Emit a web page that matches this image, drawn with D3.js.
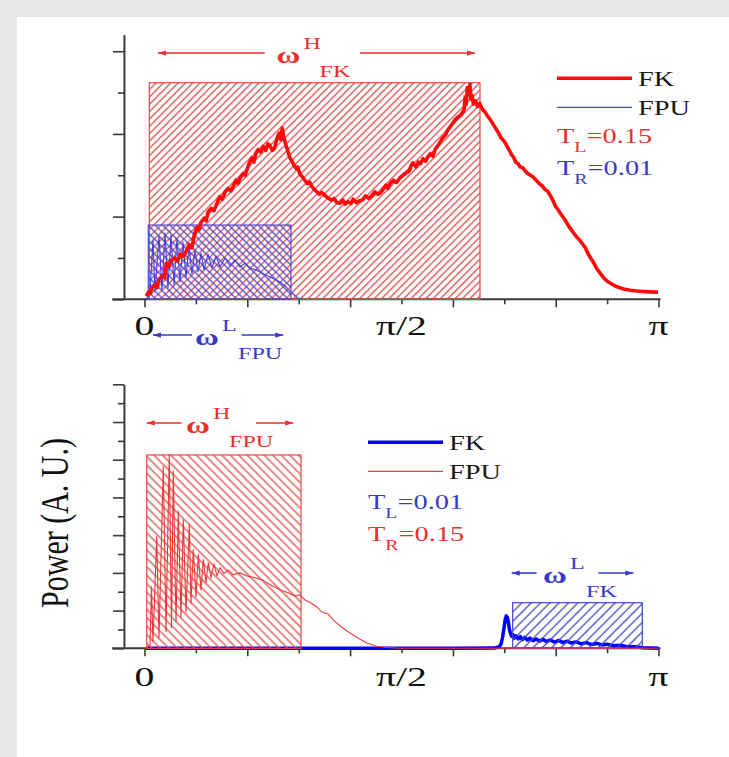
<!DOCTYPE html>
<html>
<head>
<meta charset="utf-8">
<script src="https://cdn.jsdelivr.net/npm/d3@7"></script>
<style>
body { margin: 0; background: #fff; }
svg { display: block; }
</style>
</head>
<body>
<div id="chart"></div>
<script>
// x is in units of pi, y in arbitrary units (one major tick = 1)
const topFK = [[0.003,0.04],[0.008,0.09],[0.011,0.07],[0.015,0.15],[0.020,0.17],[0.024,0.14],[0.028,0.24],[0.035,0.29],[0.039,0.26],[0.043,0.44],[0.047,0.40],[0.052,0.47],[0.059,0.50],[0.064,0.46],[0.070,0.55],[0.076,0.52],[0.081,0.58],[0.087,0.66],[0.092,0.62],[0.097,0.78],[0.102,0.87],[0.106,0.84],[0.110,0.93],[0.116,0.98],[0.120,0.95],[0.124,1.06],[0.130,1.10],[0.135,1.07],[0.141,1.16],[0.146,1.24],[0.151,1.21],[0.157,1.30],[0.163,1.34],[0.168,1.31],[0.172,1.36],[0.178,1.44],[0.182,1.40],[0.186,1.47],[0.192,1.52],[0.196,1.50],[0.199,1.56],[0.204,1.65],[0.209,1.71],[0.213,1.66],[0.217,1.77],[0.221,1.81],[0.226,1.78],[0.231,1.85],[0.236,1.80],[0.240,1.88],[0.244,1.86],[0.249,1.80],[0.253,1.83],[0.258,1.95],[0.262,2.01],[0.265,1.93],[0.268,2.07],[0.271,1.96],[0.274,1.89],[0.278,1.81],[0.283,1.71],[0.287,1.67],[0.291,1.62],[0.295,1.58],[0.298,1.60],[0.302,1.52],[0.307,1.48],[0.312,1.44],[0.317,1.40],[0.321,1.42],[0.325,1.37],[0.330,1.33],[0.335,1.30],[0.340,1.27],[0.345,1.29],[0.352,1.25],[0.358,1.22],[0.364,1.20],[0.369,1.22],[0.374,1.17],[0.380,1.16],[0.386,1.20],[0.390,1.15],[0.396,1.18],[0.402,1.16],[0.406,1.21],[0.412,1.17],[0.418,1.19],[0.424,1.20],[0.430,1.25],[0.436,1.22],[0.442,1.25],[0.448,1.30],[0.454,1.27],[0.460,1.29],[0.464,1.33],[0.470,1.38],[0.474,1.34],[0.478,1.40],[0.484,1.44],[0.490,1.41],[0.497,1.47],[0.503,1.50],[0.509,1.53],[0.515,1.55],[0.519,1.62],[0.522,1.65],[0.528,1.60],[0.533,1.66],[0.537,1.64],[0.542,1.70],[0.547,1.67],[0.551,1.72],[0.556,1.76],[0.561,1.73],[0.566,1.82],[0.571,1.86],[0.576,1.91],[0.581,1.96],[0.586,1.99],[0.590,2.05],[0.595,2.09],[0.600,2.13],[0.604,2.17],[0.609,2.20],[0.614,2.22],[0.618,2.25],[0.622,2.30],[0.624,2.45],[0.626,2.36],[0.628,2.56],[0.630,2.48],[0.633,2.60],[0.635,2.42],[0.637,2.47],[0.640,2.36],[0.644,2.40],[0.648,2.33],[0.652,2.37],[0.657,2.30],[0.662,2.27],[0.667,2.22],[0.672,2.18],[0.676,2.14],[0.680,2.10],[0.685,2.05],[0.689,2.01],[0.693,1.96],[0.697,1.93],[0.701,1.90],[0.706,1.84],[0.710,1.80],[0.714,1.75],[0.718,1.72],[0.722,1.66],[0.727,1.64],[0.731,1.60],[0.736,1.59],[0.741,1.55],[0.746,1.52],[0.751,1.50],[0.756,1.48],[0.762,1.44],[0.768,1.40],[0.774,1.37],[0.779,1.33],[0.784,1.31],[0.790,1.25],[0.795,1.19],[0.800,1.12],[0.805,1.08],[0.810,1.03],[0.816,0.98],[0.822,0.92],[0.828,0.86],[0.834,0.81],[0.840,0.76],[0.846,0.72],[0.852,0.67],[0.858,0.62],[0.863,0.55],[0.868,0.50],[0.874,0.44],[0.880,0.37],[0.886,0.32],[0.892,0.27],[0.898,0.23],[0.905,0.20],[0.913,0.17],[0.922,0.145],[0.932,0.125],[0.945,0.11],[0.958,0.10],[0.970,0.095],[0.985,0.09],[0.999,0.085]];

const topFPU = [[0.003,0],[0.0107,0.088],[0.0165,0.717],[0.0204,0.088],[0.0282,0.765],[0.034,0.112],[0.0399,0.802],[0.0457,0.137],[0.0516,0.777],[0.0574,0.173],[0.0632,0.741],[0.0691,0.209],[0.0749,0.693],[0.0807,0.258],[0.0866,0.644],[0.0924,0.306],[0.0982,0.596],[0.1041,0.33],[0.1099,0.56],[0.1158,0.354],[0.1235,0.548],[0.1313,0.378],[0.1391,0.524],[0.1469,0.39],[0.1566,0.5],[0.1663,0.403],[0.1761,0.475],[0.1858,0.39],[0.1955,0.439],[0.2053,0.378],[0.2169,0.354],[0.2286,0.318],[0.2403,0.282],[0.2519,0.245],[0.2636,0.209],[0.2753,0.149],[0.287,0.076],[0.2986,0.016],[0.3064,0]];

const botFK = [[0.003,0],[0.300,0],[0.600,0],[0.680,0.005],[0.690,0.04],[0.694,0.12],[0.697,0.32],[0.700,0.60],[0.702,0.78],[0.704,0.86],[0.706,0.82],[0.708,0.68],[0.710,0.50],[0.712,0.40],[0.714,0.32],[0.717,0.36],[0.720,0.27],[0.723,0.33],[0.727,0.25],[0.731,0.31],[0.735,0.23],[0.740,0.29],[0.745,0.22],[0.750,0.27],[0.756,0.20],[0.762,0.25],[0.768,0.19],[0.775,0.24],[0.782,0.18],[0.790,0.22],[0.798,0.16],[0.806,0.21],[0.814,0.15],[0.822,0.19],[0.830,0.14],[0.840,0.17],[0.850,0.12],[0.860,0.15],[0.870,0.10],[0.880,0.13],[0.890,0.09],[0.900,0.11],[0.912,0.07],[0.925,0.08],[0.940,0.04],[0.955,0.04],[0.970,0.015],[0.985,0.01],[1.0,0]];

const botFPU = [[0.003,0],[0.0107,0.088],[0.0136,1.63],[0.0165,0.168],[0.0237,2.96],[0.0282,0.279],[0.0366,4.82],[0.0418,0.444],[0.0482,5.14],[0.0525,0.552],[0.056,4.69],[0.0613,0.708],[0.0658,3.63],[0.071,0.833],[0.0755,3.41],[0.0807,0.966],[0.0872,3.28],[0.0905,1.2],[0.0949,2.62],[0.1002,1.36],[0.1047,2.48],[0.1099,1.55],[0.1144,2.35],[0.1196,1.74],[0.1241,2.27],[0.1294,1.87],[0.1352,2.24],[0.141,1.92],[0.1469,2.14],[0.1547,1.98],[0.1625,2.08],[0.1722,1.95],[0.1858,2.0],[0.1994,1.92],[0.215,1.87],[0.2286,1.82],[0.2383,1.74],[0.2481,1.66],[0.2636,1.55],[0.2792,1.47],[0.2928,1.39],[0.3025,1.42],[0.3123,1.28],[0.3239,1.2],[0.335,1.1],[0.3453,0.965],[0.357,0.912],[0.3667,0.753],[0.3804,0.593],[0.3998,0.407],[0.4154,0.274],[0.4323,0.141],[0.4504,0.061],[0.4712,0.021],[0.497,0],[0.6916,0],[1.0,0]];

// hatched frequency windows: x0, x1 (pi units), height
const topWindows = [{name:"FK", x0:0.0093, x1:0.6527, h:2.619}, {name:"FPU", x0:0.0074, x1:0.285, h:0.898}];
const botWindows = [{name:"FPU", x0:0.0043, x1:0.3045, h:5.126}, {name:"FK", x0:0.7163, x1:0.9685, h:1.209}];

const xMajor = [0, 0.2, 0.4, 0.6, 0.8, 1.0];
const xMinor = [0.1, 0.3, 0.5, 0.7, 0.9];
const xLabelVals = [0, 0.5, 1];
const xLabels = ["0", "π/2", "π"];
const topYMajor = [0, 1, 2, 3];
const topYMinor = [0.5, 1.5, 2.5];
const botYMajor = [0, 1, 2, 3, 4, 5, 6, 7];
const botYMinor = [0.5, 1.5, 2.5, 3.5, 4.5, 5.5, 6.5];

const RED = "#e8302e", BLUE = "#3a3ac8", FONT = "Liberation Serif, Times New Roman, serif", SX = 1.42;

const svg = d3.select("#chart").append("svg").attr("width", 729).attr("height", 757);
svg.append("rect").attr("width", 729).attr("height", 757).attr("fill", "#fff");
svg.append("rect").attr("width", 729).attr("height", 17).attr("fill", "#e6e6e6");
svg.append("rect").attr("width", 17).attr("height", 757).attr("fill", "#e6e6e6");

const defs = svg.append("defs");
function hatch(id, color, s, angle) {
    const p = defs.append("pattern").attr("id", id).attr("patternUnits", "userSpaceOnUse")
        .attr("width", s).attr("height", s).attr("patternTransform", "rotate(" + angle + ")");
    p.append("line").attr("x1", s/2).attr("y1", 0).attr("x2", s/2).attr("y2", s)
        .attr("stroke", color).attr("stroke-width", 1.3);
}
hatch("hTopFK", "#e44848", 5.2, 45);
hatch("hTopFPU", "#4a4ad6", 5.2, -45);
hatch("hBotFPU", "#e44848", 6, -45);
hatch("hBotFK", "#4444cc", 6.6, 45);

const x = d3.scaleLinear().domain([0, 1]).range([144.5, 658.5]);
const yTop = d3.scaleLinear().domain([0, 3.2]).range([299.3, 34.7]);
const yBot = d3.scaleLinear().domain([0, 7]).range([648.3, 384.3]);

function stext(g, px, py, str, size, color, weight, anchor) {
    return g.append("text").attr("transform", "translate(" + px + "," + py + ") scale(" + SX + ",1)")
        .attr("font-family", FONT).attr("font-size", size).attr("fill", color)
        .attr("font-weight", weight || "normal").attr("text-anchor", anchor || "start").text(str);
}

function axes(g, y, yMajor, yMinor, labelY) {
    const ax = x(-0.04);
    const yg = g.append("g").attr("transform", "translate(" + ax + ",0)");
    yg.call(d3.axisLeft(y).tickValues(yMajor).tickSize(11).tickSizeOuter(0).tickFormat(""));
    yg.append("g").call(d3.axisLeft(y).tickValues(yMinor).tickSize(6).tickFormat(""))
        .select(".domain").remove();
    const xg = g.append("g").attr("transform", "translate(0," + y(0) + ")");
    xg.call(d3.axisBottom(x).tickValues(xMajor).tickSize(8).tickFormat(""));
    xg.select(".domain").remove();
    xg.append("g").call(d3.axisBottom(x).tickValues(xMinor).tickSize(5).tickFormat(""))
        .select(".domain").remove();
    g.append("line").attr("x1", x(-0.063)).attr("x2", x(1.004))
        .attr("y1", y(0)).attr("y2", y(0)).attr("stroke", "#3a3a3a").attr("stroke-width", 2);
    g.selectAll(".domain").attr("stroke", "#3a3a3a").attr("stroke-width", 2);
    g.selectAll(".tick line").attr("stroke", "#3a3a3a").attr("stroke-width", 1.6);
    xLabelVals.forEach(function(v, i) {
        stext(g, x(v), labelY, xLabels[i], 28, "#111", "normal", "middle");
    });
}

function windowRect(g, y, w, fill, color) {
    g.append("rect").attr("x", x(w.x0)).attr("y", y(w.h))
        .attr("width", x(w.x1) - x(w.x0)).attr("height", y(0) - y(w.h))
        .attr("fill", "url(#" + fill + ")").attr("stroke", color).attr("stroke-width", 1.2);
}

function curve(g, y, data, color, width) {
    const line = d3.line().x(d => x(d[0])).y(d => y(d[1]));
    g.append("path").datum(data).attr("d", line).attr("fill", "none")
        .attr("stroke", color).attr("stroke-width", width).attr("stroke-linejoin", "round");
}

function arrowLine(g, xa, xb, py, headLeft, color) {
    g.append("line").attr("x1", xa).attr("x2", xb).attr("y1", py).attr("y2", py)
        .attr("stroke", color).attr("stroke-width", 1.6);
    const hx = headLeft ? xa : xb, dir = headLeft ? 1 : -1;
    g.append("path").attr("d", "M" + hx + "," + py + "L" + (hx + dir*8) + "," + (py - 2.6) + "L" + (hx + dir*8) + "," + (py + 2.6) + "Z")
        .attr("fill", color);
}

function annotate(g, y, a) {
    const bx = x(a.x), by = y(a.y);
    stext(g, bx, by, "ω", 23, a.color, "bold");
    stext(g, bx + 27, by - 14, a.sup, 17, a.color);
    stext(g, bx + 43, by + 14, a.sub, 17, a.color);
    arrowLine(g, x(a.left[0]), x(a.left[1]), by - 10, true, a.color);
    arrowLine(g, x(a.right[0]), x(a.right[1]), by - 10, false, a.color);
}

function tLabel(g, px, py, sub, val, color) {
    const t = g.append("text").attr("transform", "translate(" + px + "," + py + ") scale(" + SX + ",1)")
        .attr("font-family", FONT).attr("font-size", 20).attr("fill", color);
    t.append("tspan").text("T");
    t.append("tspan").attr("font-size", 14).attr("dy", 9).text(sub);
    t.append("tspan").attr("dy", -9).text("=" + val);
}

function legend(g, lx0, lx1, rowY, temps, tY, lines) {
    lines.forEach(function(l, i) {
        const ly = rowY + i * 29;
        g.append("line").attr("x1", lx0).attr("x2", lx1).attr("y1", ly).attr("y2", ly)
            .attr("stroke", l.color).attr("stroke-width", l.width);
        stext(g, lx1 + 6, ly + 7.5, l.label, 20, "#1a1a1a");
    });
    temps.forEach(function(t, i) {
        tLabel(g, lx0, tY + i * 32, t.sub, t.val, t.color);
    });
}

// top panel: T_L = 0.15, T_R = 0.01
const gTop = svg.append("g");
axes(gTop, yTop, topYMajor, topYMinor, 335);
windowRect(gTop, yTop, topWindows[0], "hTopFK", "#e44848");
windowRect(gTop, yTop, topWindows[1], "hTopFPU", "#4a4ad6");
curve(gTop, yTop, topFPU, "#4040e0", 1.1);
curve(gTop, yTop, topFK, "#ff0a0a", 3.6);
annotate(gTop, yTop, {x:0.257, y:2.857, sup:"H", sub:"FK", color:RED, left:[0.026,0.234], right:[0.419,0.643]});
annotate(gTop, yTop, {x:0.0982, y:-0.553, sup:"L", sub:"FPU", color:BLUE, left:[0.0165,0.0924], right:[0.189,0.270]});
legend(gTop, 557, 632, 78.3,
    [{sub:"L", val:"0.15", color:RED}, {sub:"R", val:"0.01", color:BLUE}], 143.3,
    [{label:"FK", color:"#ff0a0a", width:3.5}, {label:"FPU", color:"#4848e0", width:1.2}]);

// bottom panel: T_L = 0.01, T_R = 0.15
const gBot = svg.append("g");
axes(gBot, yBot, botYMajor, botYMinor, 686);
curve(gBot, yBot, botFK, "#0000ff", 3.5);
windowRect(gBot, yBot, botWindows[0], "hBotFPU", "#e44848");
windowRect(gBot, yBot, botWindows[1], "hBotFK", "#4444cc");
curve(gBot, yBot, botFPU, "#e83a3a", 1.1);
annotate(gBot, yBot, {x:0.0807, y:5.71, sup:"H", sub:"FPU", color:RED, left:[0.0043,0.0724], right:[0.217,0.2895]});
annotate(gBot, yBot, {x:0.7753, y:1.73, sup:"L", sub:"FK", color:BLUE, left:[0.7144,0.763], right:[0.8829,0.951]});
legend(gBot, 368, 443, 442.3,
    [{sub:"L", val:"0.01", color:BLUE}, {sub:"R", val:"0.15", color:RED}], 509,
    [{label:"FK", color:"#0000ff", width:3.5}, {label:"FPU", color:"#e83a3a", width:1.2}]);

// shared y label
svg.append("text").attr("transform", "translate(68,523) scale(1.35,1) rotate(-90)")
    .attr("font-family", FONT).attr("font-size", 30).attr("fill", "#111")
    .attr("text-anchor", "middle").text("Power (A. U.)");
</script>
</body>
</html>
